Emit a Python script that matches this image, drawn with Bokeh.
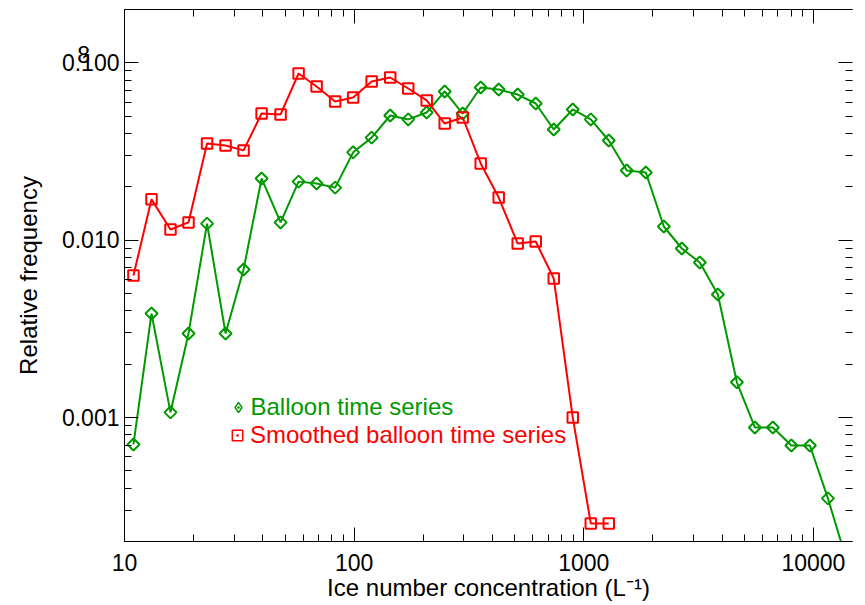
import math

from bokeh.embed import file_html
from bokeh.models import (AllLabels, ColumnDataSource, CustomJSTickFormatter, FixedTicker,
                          Legend, LegendItem, LogAxis, PrintfTickFormatter)
from bokeh.plotting import figure
from bokeh.resources import INLINE

# Bin centres of ice number concentration (L^-1)
conc = [10.94, 13.11, 15.86, 19.00, 22.88, 27.55, 33.00, 39.54, 47.83, 57.30,
        68.64, 82.65, 99.0, 119.2, 143.6, 172.0, 207.0, 248.0, 297.0, 355.8,
        426.2, 515.6, 617.8, 740.2, 895.6, 1073, 1285, 1539, 1863, 2232,
        2673, 3202, 3836, 4642, 5561, 6661, 8018, 9654, 11566, 13926]

# Relative frequency of each bin, raw balloon time series
balloon = [0.000705, 0.00386, 0.00107, 0.00298, 0.0124, 0.00298, 0.00684, 0.0223, 0.0126, 0.0214,
           0.0209, 0.0198, 0.0313, 0.0379, 0.0505, 0.0480, 0.0525, 0.0690, 0.0518, 0.0726,
           0.0708, 0.0663, 0.0590, 0.0421, 0.0546, 0.0480, 0.0365, 0.0247, 0.0241, 0.01195,
           0.00898, 0.00749, 0.00494, 0.00158, 0.000879, 0.000879, 0.000696, 0.000696, 0.000350, 0.000158]

# Relative frequency of each bin, smoothed balloon time series
smoothed = [0.00632, 0.0170, 0.0115, 0.0126, 0.0351, 0.0342, 0.0321, 0.0518, 0.0512, 0.0871,
            0.0736, 0.0606, 0.0638, 0.0785, 0.0827, 0.0717, 0.0614, 0.0455, 0.0492, 0.0271,
            0.0174, 0.00957, 0.00983, 0.00608, 0.00100, 0.000253, 0.000253]

x_ticks = [10, 100, 1000, 10000]
y_ticks = [0.001, 0.01, 0.1]
# stray "8" sitting over the 0.100 label
stray_tick = 0.1108
series_labels = ["Balloon time series", "Smoothed balloon time series"]

GREEN = "#009a00"
RED = "#ff0000"
FONT = "Liberation Sans"

x_minor = [m * 10 ** e for e in range(1, 5) for m in range(2, 10)]
y_minor = [m * 10.0 ** e for e in range(-4, 0) for m in range(2, 10)]

p = figure(width=865, height=605, x_axis_type="log", y_axis_type="log",
           x_range=(10, 14800), y_range=(0.0002, 0.2),
           output_backend="svg", toolbar_location=None,
           min_border_left=124, min_border_right=13, min_border_top=9,
           min_border_bottom=64)
p.outline_line_color = None
p.grid.visible = False
p.background_fill_color = "white"
p.border_fill_color = "white"

src_b = ColumnDataSource(dict(x=conc, y=balloon))
src_s = ColumnDataSource(dict(x=conc[:len(smoothed)], y=smoothed))

p.line("x", "y", source=src_b, line_color=GREEN, line_width=2)
p.scatter("x", "y", source=src_b, marker="square", angle=math.pi / 4, size=8.5,
          line_color=GREEN, line_width=2, fill_alpha=0)
p.line("x", "y", source=src_s, line_color=RED, line_width=2)
p.scatter("x", "y", source=src_s, marker="square", size=10.5,
          line_color=RED, line_width=2, fill_alpha=0)


def style_axis(ax, labels=True):
    ax.major_tick_in = 14
    ax.major_tick_out = 0
    ax.minor_tick_in = 7
    ax.minor_tick_out = 0
    ax.axis_line_color = "black"
    ax.major_tick_line_color = "black"
    ax.minor_tick_line_color = "black"
    ax.major_label_text_font = FONT
    ax.major_label_text_color = "black"
    ax.axis_label_text_font = FONT
    ax.axis_label_text_font_style = "normal"
    ax.axis_label_text_color = "black"
    if labels:
        ax.major_label_text_font_size = "23px"
        ax.axis_label_text_font_size = "24px"
    else:
        ax.major_label_text_font_size = "1px"
        ax.major_label_text_alpha = 0
        ax.major_label_standoff = 0


x_ticker = FixedTicker(ticks=x_ticks, minor_ticks=x_minor)
y_ticker = FixedTicker(ticks=y_ticks, minor_ticks=y_minor)

xa = p.xaxis[0]
xa.ticker = x_ticker
xa.formatter = PrintfTickFormatter(format="%d")
xa.axis_label = "Ice number concentration (L\u207b\u00b9)"
style_axis(xa)
xa.major_label_standoff = 12
xa.axis_label_standoff = 0

# Left side: one axis draws line and ticks, a second one carries the labels
ya = p.yaxis[0]
ya.ticker = y_ticker
style_axis(ya, labels=False)

ylab = LogAxis(ticker=FixedTicker(ticks=y_ticks + [stray_tick], minor_ticks=[]),
               formatter=CustomJSTickFormatter(
                   code="return tick > 0.105 ? '8\\u2002\\u2002\\u00a0' : tick.toFixed(3)"),
               major_label_policy=AllLabels())
style_axis(ylab)
ylab.axis_line_color = None
ylab.major_tick_in = 0
ylab.minor_tick_in = 0
ylab.major_tick_line_color = None
ylab.minor_tick_line_color = None
ylab.major_label_standoff = 5
ylab.axis_label = "Relative frequency"
ylab.axis_label_standoff = 17
p.add_layout(ylab, "left")

top = LogAxis(ticker=x_ticker)
style_axis(top, labels=False)
p.add_layout(top, "above")

right = LogAxis(ticker=y_ticker)
style_axis(right, labels=False)
right.axis_line_color = None
p.add_layout(right, "right")

# Legend swatches: dotted markers of zero size on the series data
sw_b = p.scatter("x", "y", source=src_b, size=0,
                 marker="diamond_dot", line_color=GREEN,
                 line_width=1.5, fill_alpha=0)
sw_s = p.scatter("x", "y", source=src_s, size=0,
                 marker="square_dot", line_color=RED, line_width=1.5, fill_alpha=0)


def make_legend(label, renderer, color, gw, gh, loc):
    lg = Legend(items=[LegendItem(label=label, renderers=[renderer])],
                location=loc, glyph_width=gw, glyph_height=gh,
                label_standoff=0, label_text_font=FONT, label_text_font_size="24px",
                label_text_color=color, padding=0, margin=0, spacing=0,
                border_line_color=None, background_fill_alpha=0)
    p.add_layout(lg)


make_legend(series_labels[0], sw_b, GREEN, 26, 28, (100.5, 120))
make_legend(series_labels[1], sw_s, RED, 26, 30, (100, 91))

open("out.html", "w").write(file_html(p, INLINE))
